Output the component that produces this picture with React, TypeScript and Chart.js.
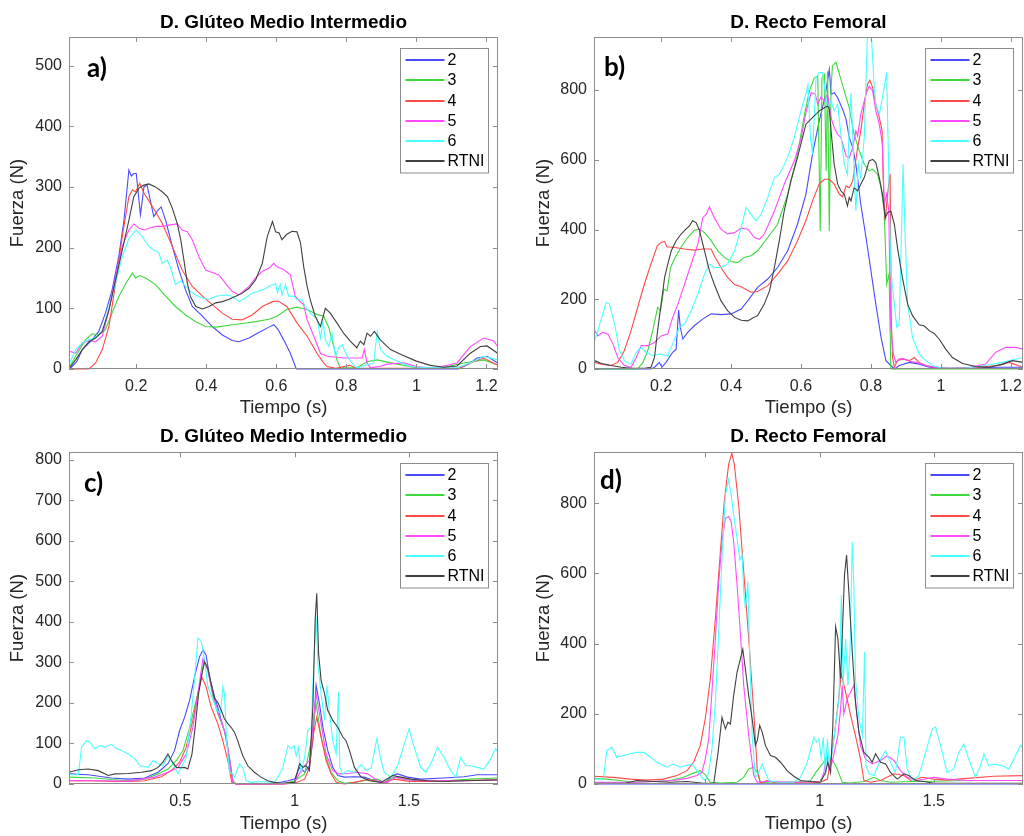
import React, { useEffect, useRef } from "react";
import { Chart, registerables } from "chart.js";

Chart.register(...registerables);

type Pt = [number, number];

const seriesLabels = ["2", "3", "4", "5", "6", "RTNI"];
const seriesColors = ["#4a4aff", "#3ed83e", "#ff4a4a", "#ff4aff", "#4affff", "#404040"];

const xTicksShort = [0.2, 0.4, 0.6, 0.8, 1, 1.2];
const xTicksLong = [0.5, 1, 1.5];
const yTicksA = [0, 100, 200, 300, 400, 500];
const yTicksB = [0, 200, 400, 600, 800];
const yTicksC = [0, 100, 200, 300, 400, 500, 600, 700, 800];
const yTicksD = [0, 200, 400, 600, 800];

// a) Glúteo medio intermedio, time (s) vs force (N)
const a2: Pt[] = [[0.01,0],[0.03,12],[0.046,32],[0.074,48],[0.093,62],[0.112,92],[0.131,130],[0.15,185],[0.165,245],[0.179,328],[0.186,318],[0.193,322],[0.2,322],[0.212,254],[0.222,300],[0.231,303],[0.25,251],[0.26,260],[0.271,267],[0.284,245],[0.303,202],[0.322,163],[0.341,130],[0.36,103],[0.389,87],[0.417,70],[0.446,56],[0.474,47],[0.493,45],[0.522,51],[0.55,60],[0.579,69],[0.593,73],[0.605,65],[0.621,48],[0.64,26],[0.657,0],[1.12,0],[1.15,8],[1.173,18],[1.202,21],[1.232,10]];
const a3: Pt[] = [[0.01,4],[0.027,21],[0.055,48],[0.074,58],[0.093,56],[0.112,65],[0.131,92],[0.15,119],[0.17,141],[0.189,158],[0.198,150],[0.21,154],[0.227,150],[0.255,139],[0.284,120],[0.312,103],[0.341,89],[0.37,78],[0.398,70],[0.427,69],[0.465,72],[0.503,75],[0.541,78],[0.579,82],[0.602,87],[0.63,98],[0.659,102],[0.688,98],[0.716,90],[0.735,87],[0.75,68],[0.764,37],[0.773,15],[0.783,2],[0.83,2],[0.859,12],[0.888,15],[0.945,8],[1.0,2],[1.08,3],[1.135,10],[1.192,15],[1.232,7]];
const a4: Pt[] = [[0.01,0],[0.065,0],[0.084,10],[0.103,32],[0.122,70],[0.141,141],[0.16,218],[0.179,284],[0.189,295],[0.198,292],[0.21,306],[0.222,290],[0.246,268],[0.274,240],[0.303,202],[0.331,163],[0.36,136],[0.389,120],[0.417,106],[0.446,92],[0.474,82],[0.503,81],[0.531,89],[0.56,103],[0.589,111],[0.605,112],[0.63,103],[0.659,76],[0.688,54],[0.716,26],[0.735,10],[0.745,4],[0.77,1],[0.793,4],[0.81,6],[0.83,1],[1.12,1],[1.154,10],[1.192,18],[1.232,6]];
const a5: Pt[] = [[0.01,29],[0.027,26],[0.046,43],[0.065,47],[0.084,45],[0.103,54],[0.122,97],[0.141,152],[0.16,202],[0.179,229],[0.193,239],[0.208,232],[0.222,229],[0.236,232],[0.255,235],[0.274,235],[0.293,237],[0.317,239],[0.331,229],[0.346,226],[0.36,213],[0.379,185],[0.398,163],[0.417,159],[0.436,155],[0.455,141],[0.474,128],[0.493,122],[0.522,136],[0.541,150],[0.56,161],[0.579,166],[0.593,174],[0.603,168],[0.621,164],[0.64,155],[0.654,120],[0.666,112],[0.678,106],[0.688,81],[0.707,54],[0.726,26],[0.745,21],[0.793,18],[0.845,18],[0.851,32],[0.859,10],[0.869,2],[0.9,5],[0.916,8],[0.964,10],[1.0,4],[1.05,1],[1.116,10],[1.154,37],[1.192,51],[1.221,46],[1.232,37]];
const a6: Pt[] = [[0.01,10],[0.027,32],[0.046,43],[0.065,48],[0.084,52],[0.103,62],[0.122,100],[0.141,141],[0.16,185],[0.179,215],[0.2,229],[0.217,218],[0.236,202],[0.25,196],[0.265,191],[0.274,174],[0.289,180],[0.303,158],[0.312,139],[0.327,145],[0.341,136],[0.355,128],[0.37,122],[0.389,117],[0.408,115],[0.427,120],[0.455,122],[0.474,120],[0.493,111],[0.512,117],[0.531,125],[0.56,130],[0.579,136],[0.598,141],[0.603,125],[0.611,139],[0.616,122],[0.626,139],[0.635,120],[0.65,120],[0.659,114],[0.673,114],[0.683,103],[0.697,92],[0.707,87],[0.716,84],[0.726,51],[0.733,78],[0.74,48],[0.75,37],[0.759,59],[0.769,21],[0.778,35],[0.788,40],[0.802,21],[0.816,10],[0.83,2],[0.878,10],[0.888,62],[0.897,32],[0.916,21],[0.945,13],[0.983,4],[1.03,2],[1.116,2],[1.154,10],[1.192,21],[1.232,15]];
const aR: Pt[] = [[0.01,2],[0.027,15],[0.046,32],[0.065,45],[0.084,51],[0.103,62],[0.122,97],[0.141,147],[0.16,196],[0.179,245],[0.193,284],[0.208,298],[0.222,303],[0.236,305],[0.255,300],[0.274,292],[0.289,284],[0.303,265],[0.317,240],[0.327,213],[0.336,180],[0.346,141],[0.355,119],[0.37,103],[0.389,99],[0.408,103],[0.427,109],[0.446,111],[0.465,115],[0.484,120],[0.503,125],[0.522,133],[0.541,147],[0.56,174],[0.574,218],[0.589,243],[0.598,226],[0.608,224],[0.616,213],[0.63,222],[0.645,227],[0.659,226],[0.669,208],[0.678,169],[0.688,136],[0.697,114],[0.711,87],[0.726,70],[0.74,100],[0.754,92],[0.773,76],[0.792,59],[0.811,46],[0.83,35],[0.84,46],[0.85,40],[0.859,59],[0.869,54],[0.88,62],[0.897,48],[0.926,32],[0.964,22],[1.0,13],[1.04,6],[1.078,3],[1.116,5],[1.154,26],[1.183,37],[1.202,38],[1.232,26]];

// b) Recto femoral
const b2: Pt[] = [[0.01,0],[0.17,0],[0.181,5],[0.195,19],[0.202,5],[0.214,19],[0.233,48],[0.243,57],[0.25,169],[0.255,119],[0.262,86],[0.276,105],[0.295,124],[0.319,143],[0.343,158],[0.371,156],[0.4,158],[0.429,172],[0.448,196],[0.476,234],[0.505,258],[0.533,291],[0.562,339],[0.59,415],[0.614,501],[0.633,616],[0.652,711],[0.667,773],[0.676,826],[0.681,859],[0.686,788],[0.695,792],[0.705,778],[0.719,745],[0.729,716],[0.738,664],[0.748,635],[0.757,587],[0.771,473],[0.786,377],[0.8,282],[0.814,186],[0.829,91],[0.843,24],[0.857,10],[0.867,0],[0.881,10],[0.91,19],[0.938,14],[0.967,5],[1.024,2],[1.166,5],[1.235,5]];
const b3: Pt[] = [[0.01,0],[0.133,0],[0.148,19],[0.162,53],[0.176,110],[0.19,177],[0.198,167],[0.208,229],[0.217,224],[0.227,291],[0.24,320],[0.257,349],[0.276,377],[0.295,398],[0.31,401],[0.324,391],[0.343,368],[0.362,339],[0.381,320],[0.4,308],[0.419,305],[0.438,320],[0.457,325],[0.476,339],[0.505,377],[0.533,415],[0.562,501],[0.59,616],[0.61,730],[0.624,797],[0.638,835],[0.648,840],[0.655,396],[0.66,835],[0.667,845],[0.672,568],[0.676,854],[0.681,396],[0.686,807],[0.69,869],[0.7,880],[0.71,845],[0.724,797],[0.738,749],[0.752,673],[0.767,625],[0.781,587],[0.795,568],[0.805,573],[0.819,558],[0.829,520],[0.838,453],[0.845,243],[0.852,272],[0.857,0],[1.235,0]];
const b4: Pt[] = [[0.01,19],[0.029,14],[0.057,10],[0.076,19],[0.095,53],[0.114,110],[0.133,177],[0.152,243],[0.171,301],[0.189,353],[0.2,363],[0.21,366],[0.217,350],[0.229,350],[0.248,347],[0.267,344],[0.295,341],[0.319,344],[0.343,344],[0.352,325],[0.371,291],[0.39,263],[0.41,242],[0.429,236],[0.457,220],[0.476,222],[0.505,239],[0.533,272],[0.562,310],[0.59,368],[0.614,425],[0.633,482],[0.652,530],[0.667,544],[0.681,544],[0.695,530],[0.71,501],[0.719,494],[0.729,525],[0.738,520],[0.748,539],[0.762,635],[0.771,683],[0.781,759],[0.79,816],[0.797,828],[0.805,807],[0.814,759],[0.824,721],[0.832,683],[0.835,549],[0.838,473],[0.841,425],[0.845,473],[0.851,530],[0.855,560],[0.858,148],[0.862,33],[0.867,5],[0.876,24],[0.89,29],[0.91,24],[0.924,33],[0.938,19],[0.957,10],[0.995,3],[1.07,2],[1.166,10],[1.195,19],[1.235,5]];
const b5: Pt[] = [[0.01,110],[0.019,95],[0.033,105],[0.048,100],[0.062,72],[0.076,33],[0.095,10],[0.114,5],[0.129,33],[0.143,67],[0.162,67],[0.181,76],[0.2,95],[0.219,100],[0.233,148],[0.248,186],[0.267,243],[0.286,301],[0.305,358],[0.319,434],[0.329,444],[0.338,465],[0.352,434],[0.371,401],[0.39,387],[0.41,391],[0.429,404],[0.448,401],[0.467,377],[0.481,372],[0.495,387],[0.524,453],[0.552,530],[0.581,597],[0.6,660],[0.614,735],[0.629,792],[0.641,788],[0.648,759],[0.657,780],[0.667,769],[0.676,788],[0.686,721],[0.695,692],[0.705,673],[0.714,664],[0.729,611],[0.738,606],[0.748,635],[0.757,683],[0.762,668],[0.771,730],[0.786,788],[0.795,811],[0.805,797],[0.814,740],[0.824,702],[0.833,644],[0.838,473],[0.845,501],[0.851,453],[0.857,119],[0.864,43],[0.871,19],[0.881,29],[0.895,29],[0.91,22],[0.929,19],[0.957,10],[0.995,3],[1.07,2],[1.128,14],[1.157,48],[1.186,62],[1.214,62],[1.235,57]];
const b6: Pt[] = [[0.01,81],[0.019,110],[0.033,158],[0.043,191],[0.052,186],[0.067,129],[0.081,53],[0.095,24],[0.114,14],[0.129,48],[0.143,62],[0.157,48],[0.176,38],[0.195,43],[0.219,38],[0.233,72],[0.252,119],[0.267,129],[0.286,167],[0.305,215],[0.324,272],[0.338,301],[0.352,291],[0.371,291],[0.39,301],[0.41,339],[0.429,406],[0.443,463],[0.457,444],[0.471,425],[0.486,444],[0.505,492],[0.524,549],[0.538,558],[0.562,606],[0.581,664],[0.595,721],[0.605,759],[0.612,780],[0.62,815],[0.627,664],[0.633,616],[0.643,835],[0.652,850],[0.662,850],[0.676,745],[0.686,769],[0.695,740],[0.705,759],[0.714,673],[0.724,587],[0.733,558],[0.738,692],[0.743,792],[0.748,664],[0.757,453],[0.764,587],[0.771,549],[0.781,664],[0.79,960],[0.8,980],[0.81,800],[0.814,759],[0.824,730],[0.833,778],[0.845,850],[0.851,568],[0.857,282],[0.867,186],[0.874,119],[0.881,129],[0.892,587],[0.898,377],[0.905,186],[0.919,91],[0.938,43],[0.957,24],[0.976,10],[1.005,2],[1.07,2],[1.128,10],[1.176,19],[1.235,33]];
const bR: Pt[] = [[0.01,24],[0.029,16],[0.057,10],[0.086,5],[0.114,2],[0.152,2],[0.171,5],[0.181,33],[0.19,110],[0.2,186],[0.21,263],[0.219,301],[0.229,339],[0.243,368],[0.257,387],[0.271,401],[0.281,410],[0.29,425],[0.3,420],[0.31,396],[0.324,339],[0.338,282],[0.352,243],[0.371,196],[0.39,167],[0.41,148],[0.429,140],[0.448,138],[0.462,146],[0.476,153],[0.495,186],[0.51,224],[0.524,291],[0.538,368],[0.552,453],[0.571,539],[0.59,606],[0.614,702],[0.633,721],[0.652,740],[0.667,749],[0.676,754],[0.681,745],[0.686,683],[0.695,587],[0.705,530],[0.714,511],[0.724,501],[0.733,468],[0.738,492],[0.743,482],[0.752,520],[0.762,511],[0.771,530],[0.781,549],[0.795,597],[0.805,601],[0.814,592],[0.824,549],[0.833,501],[0.841,434],[0.848,449],[0.857,453],[0.867,415],[0.876,348],[0.89,263],[0.905,186],[0.919,153],[0.938,127],[0.952,124],[0.967,110],[0.981,102],[0.995,86],[1.014,57],[1.033,33],[1.062,16],[1.1,7],[1.138,5],[1.176,14],[1.205,24],[1.235,19]];

// c) Glúteo medio intermedio, longer trial
const c2: Pt[] = [[0.013,25],[0.097,23],[0.199,15],[0.272,12],[0.344,15],[0.403,29],[0.446,50],[0.475,83],[0.497,132],[0.519,165],[0.541,207],[0.562,264],[0.584,314],[0.599,331],[0.613,318],[0.628,264],[0.65,215],[0.664,190],[0.679,157],[0.701,116],[0.715,58],[0.73,4],[0.744,0],[0.9,0],[0.971,8],[1.0,12],[1.022,41],[1.044,29],[1.065,45],[1.08,107],[1.094,244],[1.109,198],[1.124,140],[1.145,83],[1.167,41],[1.189,21],[1.218,17],[1.262,18],[1.305,17],[1.349,8],[1.392,2],[1.429,21],[1.451,25],[1.494,17],[1.552,12],[1.654,15],[1.741,18],[1.799,23],[1.89,23]];
const c3: Pt[] = [[0.013,17],[0.126,15],[0.199,11],[0.272,8],[0.344,12],[0.403,25],[0.446,37],[0.483,58],[0.512,83],[0.541,140],[0.562,190],[0.584,240],[0.603,302],[0.621,281],[0.643,215],[0.664,174],[0.693,132],[0.715,66],[0.73,8],[0.744,0],[0.95,0],[1.0,8],[1.044,25],[1.073,107],[1.094,198],[1.116,116],[1.138,66],[1.16,29],[1.189,8],[1.218,2],[1.262,4],[1.32,10],[1.363,12],[1.392,4],[1.436,17],[1.48,12],[1.538,7],[1.654,8],[1.77,12],[1.89,15]];
const c4: Pt[] = [[0.013,8],[0.126,8],[0.199,6],[0.272,6],[0.344,8],[0.417,18],[0.461,33],[0.497,54],[0.526,91],[0.555,157],[0.577,223],[0.594,264],[0.613,240],[0.635,190],[0.664,149],[0.686,107],[0.708,58],[0.725,4],[0.744,0],[0.95,0],[1.0,2],[1.044,12],[1.065,41],[1.08,116],[1.097,165],[1.116,116],[1.138,58],[1.16,25],[1.182,4],[1.218,0],[1.262,4],[1.32,11],[1.392,3],[1.436,12],[1.494,7],[1.581,6],[1.727,8],[1.89,11]];
const c5: Pt[] = [[0.013,8],[0.126,8],[0.272,7],[0.388,17],[0.446,29],[0.49,41],[0.526,74],[0.555,140],[0.577,223],[0.599,310],[0.618,285],[0.643,223],[0.664,178],[0.693,132],[0.715,66],[0.73,4],[0.744,0],[0.95,0],[1.0,4],[1.036,41],[1.065,58],[1.08,140],[1.094,223],[1.116,149],[1.138,74],[1.167,33],[1.196,25],[1.233,26],[1.276,29],[1.32,25],[1.363,8],[1.407,4],[1.443,17],[1.494,10],[1.581,8],[1.741,8],[1.89,10]];
const c6: Pt[] = [[0.013,23],[0.054,23],[0.068,91],[0.09,107],[0.105,103],[0.126,87],[0.148,95],[0.17,91],[0.199,98],[0.221,87],[0.243,83],[0.272,74],[0.301,62],[0.324,45],[0.359,41],[0.381,58],[0.403,50],[0.424,45],[0.446,70],[0.468,50],[0.49,25],[0.504,41],[0.526,66],[0.548,174],[0.562,256],[0.577,360],[0.592,352],[0.606,306],[0.621,240],[0.643,207],[0.661,182],[0.676,174],[0.686,240],[0.693,223],[0.703,107],[0.715,29],[0.73,25],[0.737,17],[0.759,50],[0.773,41],[0.788,8],[0.81,4],[0.853,6],[0.911,4],[0.93,20],[0.949,41],[0.971,95],[0.985,87],[0.997,95],[1.007,70],[1.017,91],[1.029,29],[1.044,66],[1.058,132],[1.073,140],[1.084,298],[1.094,413],[1.102,298],[1.116,223],[1.131,157],[1.142,244],[1.153,174],[1.167,107],[1.182,74],[1.192,227],[1.198,41],[1.211,25],[1.233,33],[1.262,29],[1.291,48],[1.313,33],[1.335,40],[1.36,112],[1.378,58],[1.392,29],[1.422,17],[1.451,45],[1.48,99],[1.501,136],[1.523,91],[1.552,41],[1.574,29],[1.603,58],[1.625,91],[1.654,66],[1.683,33],[1.705,17],[1.727,66],[1.749,45],[1.77,45],[1.799,41],[1.828,37],[1.858,62],[1.879,87],[1.89,79]];
const cR: Pt[] = [[0.013,29],[0.054,35],[0.097,37],[0.141,33],[0.185,21],[0.214,25],[0.272,26],[0.33,29],[0.374,33],[0.403,41],[0.424,54],[0.446,74],[0.461,58],[0.483,41],[0.504,40],[0.519,41],[0.533,37],[0.551,74],[0.565,140],[0.58,223],[0.592,264],[0.606,302],[0.621,285],[0.635,248],[0.65,211],[0.664,202],[0.679,182],[0.693,161],[0.708,149],[0.722,140],[0.737,128],[0.751,107],[0.773,70],[0.795,45],[0.824,29],[0.853,17],[0.882,8],[0.911,4],[0.94,2],[1.0,4],[1.022,50],[1.036,41],[1.051,45],[1.065,33],[1.08,190],[1.09,405],[1.097,471],[1.105,323],[1.116,256],[1.131,223],[1.145,182],[1.167,157],[1.189,140],[1.211,116],[1.225,107],[1.24,83],[1.262,41],[1.291,17],[1.327,8],[1.378,4],[1.429,21],[1.465,17],[1.509,12],[1.581,8],[1.654,6],[1.741,8],[1.89,10]];

// d) Recto femoral, longer trial
const d2: Pt[] = [[0.013,0],[0.5,0],[1.0,0],[1.5,0],[1.89,0]];
const d3: Pt[] = [[0.013,16],[0.069,14],[0.127,10],[0.186,5],[0.273,7],[0.346,10],[0.405,19],[0.449,31],[0.478,38],[0.5,26],[0.522,5],[0.566,3],[0.639,5],[0.668,19],[0.69,43],[0.712,48],[0.727,33],[0.741,5],[0.785,3],[0.858,5],[0.946,7],[0.961,10],[0.983,33],[1.034,75],[1.055,70],[1.077,43],[1.099,5],[1.136,3],[1.194,7],[1.238,19],[1.267,10],[1.31,5],[1.398,7],[1.5,8],[1.646,10],[1.792,10],[1.89,10]];
const d4: Pt[] = [[0.013,22],[0.098,19],[0.171,14],[0.244,11],[0.317,14],[0.376,24],[0.42,38],[0.449,62],[0.478,110],[0.5,186],[0.522,300],[0.544,471],[0.566,662],[0.583,805],[0.602,910],[0.616,943],[0.627,910],[0.646,795],[0.668,605],[0.69,414],[0.712,205],[0.727,43],[0.741,3],[0.77,10],[0.8,5],[0.946,3],[1.004,5],[1.034,14],[1.055,90],[1.077,205],[1.095,314],[1.114,262],[1.136,195],[1.157,138],[1.179,71],[1.194,10],[1.223,5],[1.267,10],[1.325,29],[1.369,24],[1.398,10],[1.427,14],[1.449,19],[1.5,14],[1.558,11],[1.646,16],[1.762,22],[1.89,24]];
const d5: Pt[] = [[0.013,5],[0.2,5],[0.361,10],[0.42,16],[0.463,24],[0.485,33],[0.5,71],[0.515,129],[0.529,262],[0.544,414],[0.558,567],[0.573,690],[0.588,757],[0.602,762],[0.613,748],[0.624,690],[0.639,567],[0.654,424],[0.668,281],[0.69,138],[0.712,24],[0.727,5],[0.77,8],[0.9,5],[1.004,7],[1.019,33],[1.031,90],[1.041,43],[1.055,62],[1.08,138],[1.092,214],[1.099,281],[1.106,200],[1.121,243],[1.136,262],[1.15,281],[1.165,186],[1.179,110],[1.201,71],[1.23,57],[1.267,67],[1.296,81],[1.325,67],[1.354,38],[1.383,19],[1.427,10],[1.5,19],[1.558,14],[1.646,10],[1.792,10],[1.89,10]];
const d6: Pt[] = [[0.013,14],[0.054,14],[0.069,95],[0.091,105],[0.113,76],[0.142,81],[0.171,86],[0.2,90],[0.23,90],[0.251,81],[0.288,62],[0.332,48],[0.361,57],[0.39,48],[0.415,52],[0.442,57],[0.463,38],[0.485,19],[0.5,10],[0.515,33],[0.529,100],[0.544,233],[0.558,424],[0.573,643],[0.588,824],[0.602,867],[0.613,824],[0.624,767],[0.639,700],[0.651,638],[0.661,652],[0.668,548],[0.675,500],[0.686,576],[0.694,376],[0.705,138],[0.719,19],[0.734,33],[0.749,57],[0.763,33],[0.778,10],[0.814,5],[0.887,5],[0.917,20],[0.946,62],[0.975,133],[0.987,119],[0.997,129],[1.007,76],[1.016,133],[1.026,24],[1.034,129],[1.041,62],[1.055,90],[1.07,167],[1.085,243],[1.095,538],[1.103,281],[1.114,414],[1.124,281],[1.133,376],[1.143,690],[1.15,567],[1.157,300],[1.172,186],[1.187,138],[1.197,376],[1.203,52],[1.216,29],[1.238,24],[1.267,71],[1.289,95],[1.31,62],[1.332,33],[1.354,133],[1.369,133],[1.383,43],[1.405,10],[1.434,24],[1.464,90],[1.493,157],[1.507,162],[1.529,110],[1.558,33],[1.587,43],[1.609,90],[1.631,114],[1.653,71],[1.682,19],[1.704,52],[1.719,86],[1.741,52],[1.762,57],[1.799,52],[1.828,43],[1.857,81],[1.879,110],[1.89,104]];
const dR: Pt[] = [[0.013,2],[0.15,2],[0.2,10],[0.273,7],[0.346,5],[0.42,7],[0.493,2],[0.537,2],[0.556,90],[0.573,190],[0.588,157],[0.599,176],[0.61,171],[0.624,252],[0.639,319],[0.654,357],[0.664,384],[0.675,329],[0.69,252],[0.705,186],[0.719,110],[0.728,125],[0.738,167],[0.749,148],[0.763,110],[0.785,81],[0.807,76],[0.829,62],[0.858,38],[0.887,22],[0.917,10],[0.961,7],[1.004,5],[1.026,33],[1.036,62],[1.048,33],[1.058,167],[1.07,448],[1.08,414],[1.092,300],[1.109,595],[1.118,652],[1.128,548],[1.143,376],[1.157,233],[1.172,148],[1.194,90],[1.216,76],[1.23,62],[1.245,86],[1.267,62],[1.289,57],[1.31,33],[1.34,14],[1.369,29],[1.39,24],[1.42,10],[1.456,7],[1.5,2],[1.89,2]];

const FONT = "'Liberation Sans', Arial, sans-serif";
const TEXT = "#262626";
const FRAME = "#8c8c8c";

type PanelCfg = {
  title: string;
  tag: string;
  series: Pt[][];
  xMin: number;
  xMax: number;
  yMax: number;
  xTicks: number[];
  yTicks: number[];
  left: number;
  top: number;
  height: number;
  yAxisWidth: number;
  padRight: number;
  xAxisHeight: number;
  titlePad: { top: number; bottom: number };
  yTitlePad: number;
  tagDx: number;
  tagDy: number;
};

const panels: PanelCfg[] = [
  { title: "D. Glúteo Medio Intermedio", tag: "a)", series: [a2, a3, a4, a5, a6, aR], xMin: 0.008, xMax: 1.233, yMax: 547, xTicks: xTicksShort, yTicks: yTicksA,
    left: 0, top: 0, height: 420, yAxisWidth: 69, padRight: 14, xAxisHeight: 51, titlePad: { top: 11.6, bottom: 2.6 }, yTitlePad: 7.2, tagDx: 18, tagDy: 32 },
  { title: "D. Recto Femoral", tag: "b)", series: [b2, b3, b4, b5, b6, bR], xMin: 0.008, xMax: 1.235, yMax: 952, xTicks: xTicksShort, yTicks: yTicksB,
    left: 512, top: 0, height: 420, yAxisWidth: 82, padRight: 1, xAxisHeight: 51, titlePad: { top: 11.6, bottom: 2.6 }, yTitlePad: 20.6, tagDx: 10, tagDy: 30.5 },
  { title: "D. Glúteo Medio Intermedio", tag: "c)", series: [c2, c3, c4, c5, c6, cR], xMin: 0.013, xMax: 1.89, yMax: 819, xTicks: xTicksLong, yTicks: yTicksC,
    left: 0, top: 420, height: 416, yAxisWidth: 69, padRight: 14, xAxisHeight: 52, titlePad: { top: 5.3, bottom: 4.2 }, yTitlePad: 7.2, tagDx: 15, tagDy: 31 },
  { title: "D. Recto Femoral", tag: "d)", series: [d2, d3, d4, d5, d6, dR], xMin: 0.013, xMax: 1.89, yMax: 945, xTicks: xTicksLong, yTicks: yTicksD,
    left: 512, top: 420, height: 416, yAxisWidth: 82, padRight: 1, xAxisHeight: 52, titlePad: { top: 5.3, bottom: 4.2 }, yTitlePad: 20.6, tagDx: 6, tagDy: 28.5 },
];

function makeFramePlugin(cfg: PanelCfg) {
  return {
    id: "axesFrame",
    afterDatasetsDraw(chart: any) {
      const { ctx, chartArea, scales } = chart;
      const { left, top, right, bottom } = chartArea;
      const xs = scales.x;
      const ys = scales.y;
      ctx.save();
      // box and inward tick marks on all four sides
      ctx.strokeStyle = FRAME;
      ctx.lineWidth = 1;
      ctx.strokeRect(Math.round(left) + 0.5, Math.round(top) + 0.5, Math.round(right - left) - 1, Math.round(bottom - top) - 1);
      ctx.beginPath();
      for (const t of xs.ticks) {
        const px = Math.round(xs.getPixelForValue(t.value)) + 0.5;
        ctx.moveTo(px, bottom);
        ctx.lineTo(px, bottom - 5);
        ctx.moveTo(px, top);
        ctx.lineTo(px, top + 5);
      }
      for (const t of ys.ticks) {
        const py = Math.round(ys.getPixelForValue(t.value)) + 0.5;
        ctx.moveTo(left, py);
        ctx.lineTo(left + 5, py);
        ctx.moveTo(right, py);
        ctx.lineTo(right - 5, py);
      }
      ctx.stroke();

      // panel tag
      ctx.fillStyle = "#000";
      ctx.font = "bold 26px Lato, 'Open Sans', sans-serif";
      ctx.textAlign = "left";
      ctx.textBaseline = "middle";
      ctx.fillText(cfg.tag, left + cfg.tagDx, top + cfg.tagDy);

      // legend box inside the upper-right corner
      const bw = 88;
      const bh = 124.5;
      const bx = Math.round(right - 10 - bw) + 0.5;
      const by = Math.round(top + 11) + 0.5;
      ctx.fillStyle = "#fff";
      ctx.fillRect(bx, by, bw, bh);
      ctx.lineWidth = 1;
      ctx.strokeStyle = FRAME;
      ctx.strokeRect(bx, by, bw, bh);
      ctx.font = `16px ${FONT}`;
      seriesLabels.forEach((label, i) => {
        const ry = Math.round(by + 11.7 + i * 20.2);
        ctx.strokeStyle = seriesColors[i];
        ctx.lineWidth = 2;
        ctx.beginPath();
        ctx.moveTo(bx + 5, ry);
        ctx.lineTo(bx + 44, ry);
        ctx.stroke();
        ctx.fillStyle = "#000";
        ctx.fillText(label, bx + 47, ry + 1);
      });
      ctx.restore();
    },
  };
}

function Panel({ cfg }: { cfg: PanelCfg }) {
  const ref = useRef<HTMLCanvasElement | null>(null);
  useEffect(() => {
    if (!ref.current) return;
    const chart = new Chart(ref.current, {
      type: "line",
      data: {
        datasets: cfg.series.map((pts, i) => ({
          label: seriesLabels[i],
          data: pts.map(([x, y]) => ({ x, y })),
          borderColor: seriesColors[i],
          borderWidth: 1.1,
          pointRadius: 0,
          tension: 0,
          fill: false,
          order: seriesLabels.length - i,
          clip: { left: 1, right: 1, top: 0, bottom: 1 },
        })),
      },
      options: {
        animation: false,
        responsive: false,
        events: [],
        layout: { padding: { left: 0, right: cfg.padRight, top: 0, bottom: 0 } },
        plugins: {
          legend: { display: false },
          tooltip: { enabled: false },
          title: {
            display: true,
            text: cfg.title,
            fullSize: false,
            color: "#000",
            font: { family: FONT, size: 19, weight: "bold", lineHeight: 1.2 },
            padding: cfg.titlePad,
          },
        },
        scales: {
          x: {
            type: "linear",
            min: cfg.xMin,
            max: cfg.xMax,
            grid: { display: false, drawTicks: false },
            border: { display: false },
            ticks: {
              color: TEXT,
              font: { family: FONT, size: 16 },
              padding: 8,
              maxRotation: 0,
              autoSkip: false,
              callback: (v: any) => String(v),
            },
            afterBuildTicks: (s: any) => {
              s.ticks = cfg.xTicks.map((v) => ({ value: v }));
            },
            afterFit: (s: any) => {
              s.height = cfg.xAxisHeight;
              s.paddingLeft = 0;
              s.paddingRight = 0;
            },
            title: {
              display: true,
              text: "Tiempo (s)",
              color: TEXT,
              font: { family: FONT, size: 18.5, lineHeight: 1.2 },
              padding: { top: 0, bottom: 0.5 },
            },
          },
          y: {
            type: "linear",
            min: 0,
            max: cfg.yMax,
            grid: { display: false, drawTicks: false },
            border: { display: false },
            ticks: {
              color: TEXT,
              font: { family: FONT, size: 16 },
              padding: 7,
              autoSkip: false,
              callback: (v: any) => String(v),
            },
            afterBuildTicks: (s: any) => {
              s.ticks = cfg.yTicks.map((v) => ({ value: v }));
            },
            afterFit: (s: any) => {
              s.width = cfg.yAxisWidth;
              s.paddingTop = 0;
              s.paddingBottom = 0;
            },
            title: {
              display: true,
              text: "Fuerza (N)",
              color: TEXT,
              font: { family: FONT, size: 18.5, lineHeight: 1.2 },
              padding: { top: cfg.yTitlePad, bottom: 0 },
            },
          },
        },
      } as any,
      plugins: [makeFramePlugin(cfg)],
    });
    return () => chart.destroy();
  }, [cfg]);

  return (
    <canvas
      ref={ref}
      width={512}
      height={cfg.height}
      style={{ position: "absolute", left: cfg.left, top: cfg.top, width: 512, height: cfg.height, display: "block" }}
    />
  );
}

export default function App() {
  return (
    <div style={{ position: "absolute", left: 0, top: 0, width: 1024, height: 836, background: "#fff", overflow: "hidden" }}>
      {panels.map((p, i) => (
        <Panel key={i} cfg={p} />
      ))}
    </div>
  );
}
